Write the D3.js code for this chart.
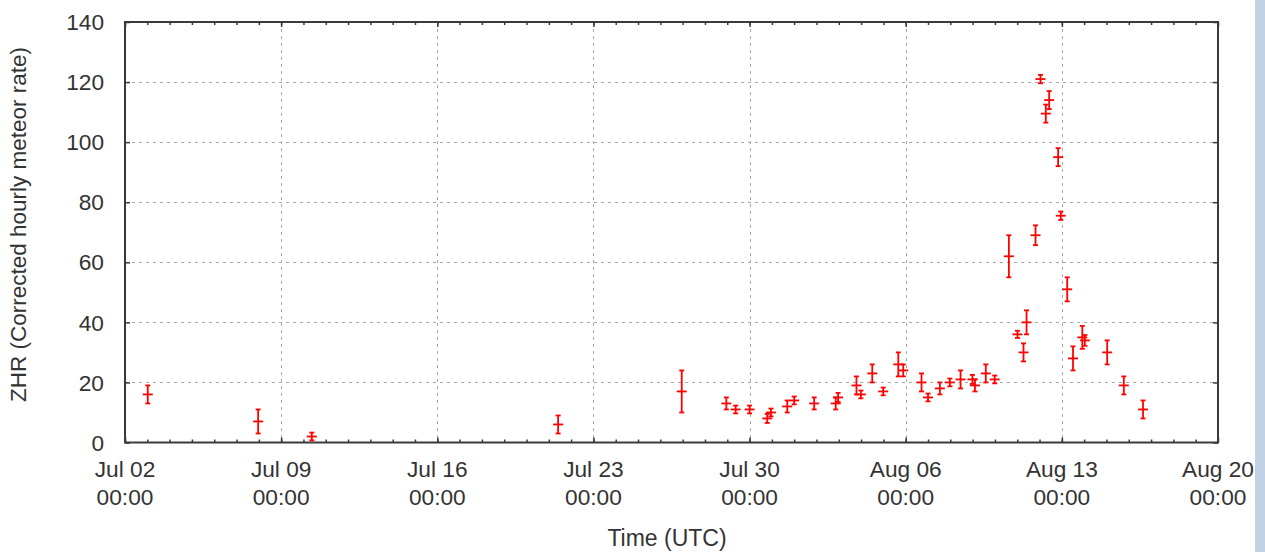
<!DOCTYPE html>
<html>
<head>
<meta charset="utf-8">
<script src="https://cdn.jsdelivr.net/npm/d3@7"></script>
<style>
    body { margin: 0; background: #fff; }
    svg { display: block; font-family: "Liberation Sans", Arial, sans-serif; }
</style>
</head>
<body>
<svg width="1265" height="552"></svg>
<script>
// Observed ZHR values with their error bars (UTC times).
var obsTimes = [
    "2016-07-03 00:30", "2016-07-07 23:15", "2016-07-10 09:00", "2016-07-21 10:00",
    "2016-07-26 23:00", "2016-07-28 23:00", "2016-07-29 09:00", "2016-07-30 00:00",
    "2016-07-30 19:00", "2016-07-30 23:00", "2016-07-31 16:30", "2016-08-01 00:00",
    "2016-08-01 21:30", "2016-08-02 20:40", "2016-08-02 23:15", "2016-08-03 19:00",
    "2016-08-03 23:45", "2016-08-04 12:00", "2016-08-04 23:45", "2016-08-05 16:00",
    "2016-08-05 21:20", "2016-08-06 17:00", "2016-08-07 00:00", "2016-08-07 12:45",
    "2016-08-07 23:30", "2016-08-08 11:00", "2016-08-08 23:45", "2016-08-09 02:30",
    "2016-08-09 14:10", "2016-08-09 23:45", "2016-08-10 15:00", "2016-08-11 00:15",
    "2016-08-11 06:45", "2016-08-11 10:00", "2016-08-11 19:40", "2016-08-12 01:00",
    "2016-08-12 06:45", "2016-08-12 10:20", "2016-08-12 20:00", "2016-08-12 22:50",
    "2016-08-13 05:45", "2016-08-13 12:00", "2016-08-13 22:00", "2016-08-14 00:45",
    "2016-08-15 00:45", "2016-08-15 18:40", "2016-08-16 15:20"
];
var obsZhr = [
    16, 7, 2, 6,
    17, 13, 11, 11,
    8, 10, 12, 14,
    13, 13, 15, 19,
    16, 23, 17, 26,
    24, 20, 15, 18,
    20, 21, 21, 19,
    23, 21, 62, 36,
    30, 40, 69, 121,
    109.5, 114, 95, 75.5,
    51, 28, 35, 34,
    30, 19, 11
];
var obsErr = [
    3, 4, 1.3, 3,
    7, 2, 1.3, 1.3,
    1.5, 1.3, 2, 1.3,
    2, 2, 1.5, 3,
    1.3, 3, 1.3, 4,
    2, 3, 1.3, 2,
    1.3, 3, 1.5, 2,
    3, 1.3, 7, 1.2,
    3, 4, 3.3, 1.4,
    3, 3, 3, 1.4,
    4, 4, 3.8, 1.8,
    4, 3, 3
];

// Axis ticks.
var xTicks = ["2016-07-02", "2016-07-09", "2016-07-16", "2016-07-23",
    "2016-07-30", "2016-08-06", "2016-08-13", "2016-08-20"];
var yTicks = [0, 20, 40, 60, 80, 100, 120, 140];

var parseTime = d3.utcParse("%Y-%m-%d %H:%M");
var parseDay = d3.utcParse("%Y-%m-%d");

var plotLeft = 125, plotRight = 1218, plotTop = 22, plotBottom = 442.5;
var frameColor = "#3a3a3a";
var textColor = "#333";

var svg = d3.select("svg");

// Light blue strip at the right edge of the page.
svg.append("rect")
    .attr("x", 1255).attr("y", 0)
    .attr("width", 10).attr("height", 552)
    .attr("fill", "#c3d1e5");

var majorDates = xTicks.map(function(d) { return parseDay(d); });

var x = d3.scaleUtc()
    .domain([majorDates[0], majorDates[majorDates.length - 1]])
    .range([plotLeft, plotRight]);

var y = d3.scaleLinear()
    .domain([0, 140])
    .range([plotBottom, plotTop]);

// Dotted grid.
var grid = svg.append("g")
    .attr("stroke", "#a8a8a8")
    .attr("stroke-width", 1)
    .attr("stroke-dasharray", "3,4");

grid.selectAll("line.gx")
    .data(majorDates.slice(1, -1))
    .enter().append("line")
    .attr("class", "gx")
    .attr("x1", function(d) { return Math.round(x(d)) + 0.5; })
    .attr("x2", function(d) { return Math.round(x(d)) + 0.5; })
    .attr("y1", plotTop)
    .attr("y2", plotBottom);

grid.selectAll("line.gy")
    .data(yTicks.slice(1, -1))
    .enter().append("line")
    .attr("class", "gy")
    .attr("y1", function(d) { return Math.round(y(d)) + 0.5; })
    .attr("y2", function(d) { return Math.round(y(d)) + 0.5; })
    .attr("x1", plotLeft)
    .attr("x2", plotRight);

// Inward ticks, gnuplot style: daily minors, weekly majors on all four sides.
var minorDates = d3.utcDay.range(majorDates[0], majorDates[majorDates.length - 1]);

function styleTicks(g) {
    g.select(".domain").remove();
    g.selectAll(".tick line").attr("stroke", frameColor).attr("stroke-width", 1.5);
    g.selectAll(".tick text").remove();
}

svg.append("g")
    .attr("transform", "translate(0," + plotBottom + ")")
    .call(d3.axisBottom(x).tickValues(minorDates).tickSize(-3))
    .call(styleTicks);
svg.append("g")
    .attr("transform", "translate(0," + plotBottom + ")")
    .call(d3.axisBottom(x).tickValues(majorDates).tickSize(-5))
    .call(styleTicks);
svg.append("g")
    .attr("transform", "translate(0," + plotTop + ")")
    .call(d3.axisTop(x).tickValues(minorDates).tickSize(-3))
    .call(styleTicks);
svg.append("g")
    .attr("transform", "translate(0," + plotTop + ")")
    .call(d3.axisTop(x).tickValues(majorDates).tickSize(-5))
    .call(styleTicks);
svg.append("g")
    .attr("transform", "translate(" + plotLeft + ",0)")
    .call(d3.axisLeft(y).tickValues(yTicks).tickSize(-5))
    .call(styleTicks);
svg.append("g")
    .attr("transform", "translate(" + plotRight + ",0)")
    .call(d3.axisRight(y).tickValues(yTicks).tickSize(-5))
    .call(styleTicks);

// Frame.
svg.append("rect")
    .attr("x", plotLeft).attr("y", plotTop)
    .attr("width", plotRight - plotLeft)
    .attr("height", plotBottom - plotTop)
    .attr("fill", "none")
    .attr("stroke", frameColor)
    .attr("stroke-width", 2);

// Tick labels.
var fmtDay = d3.utcFormat("%b %d");
var fmtHour = d3.utcFormat("%H:%M");

var xLabels = svg.append("g")
    .attr("fill", textColor)
    .attr("font-size", "22.7px")
    .attr("text-anchor", "middle");

xLabels.selectAll("text")
    .data(majorDates)
    .enter().append("text")
    .attr("transform", function(d) { return "translate(" + x(d) + ",477)"; })
    .each(function(d) {
        var t = d3.select(this);
        t.append("tspan").attr("x", 0).attr("y", 0).text(fmtDay(d));
        t.append("tspan").attr("x", 0).attr("y", 28).text(fmtHour(d));
    });

svg.append("g")
    .attr("fill", textColor)
    .attr("font-size", "22.7px")
    .attr("text-anchor", "end")
    .selectAll("text")
    .data(yTicks)
    .enter().append("text")
    .attr("x", 104)
    .attr("y", function(d) { return y(d); })
    .attr("dy", "0.36em")
    .text(function(d) { return d; });

// Axis titles.
svg.append("text")
    .attr("x", 667).attr("y", 546)
    .attr("fill", textColor)
    .attr("font-size", "23px")
    .attr("text-anchor", "middle")
    .text("Time (UTC)");

svg.append("text")
    .attr("transform", "translate(26,224.5) rotate(-90)")
    .attr("fill", textColor)
    .attr("font-size", "22.5px")
    .attr("text-anchor", "middle")
    .text("ZHR (Corrected hourly meteor rate)");

// Error bars: vertical bar, small caps, and a wider mark at the value.
var obs = obsTimes.map(function(t, i) {
    return { time: parseTime(t), zhr: obsZhr[i], err: obsErr[i] };
});

var bars = svg.append("g")
    .attr("stroke", "#ff0000")
    .attr("stroke-width", 1.8)
    .selectAll("g")
    .data(obs)
    .enter().append("g")
    .attr("transform", function(d) { return "translate(" + x(d.time) + ",0)"; });

bars.append("line")
    .attr("x1", 0).attr("x2", 0)
    .attr("y1", function(d) { return y(d.zhr + d.err); })
    .attr("y2", function(d) { return y(d.zhr - d.err); });

bars.append("line")
    .attr("x1", -2.5).attr("x2", 2.5)
    .attr("y1", function(d) { return y(d.zhr + d.err); })
    .attr("y2", function(d) { return y(d.zhr + d.err); });

bars.append("line")
    .attr("x1", -2.5).attr("x2", 2.5)
    .attr("y1", function(d) { return y(d.zhr - d.err); })
    .attr("y2", function(d) { return y(d.zhr - d.err); });

bars.append("line")
    .attr("x1", -5).attr("x2", 5)
    .attr("y1", function(d) { return y(d.zhr); })
    .attr("y2", function(d) { return y(d.zhr); });
</script>
</body>
</html>
